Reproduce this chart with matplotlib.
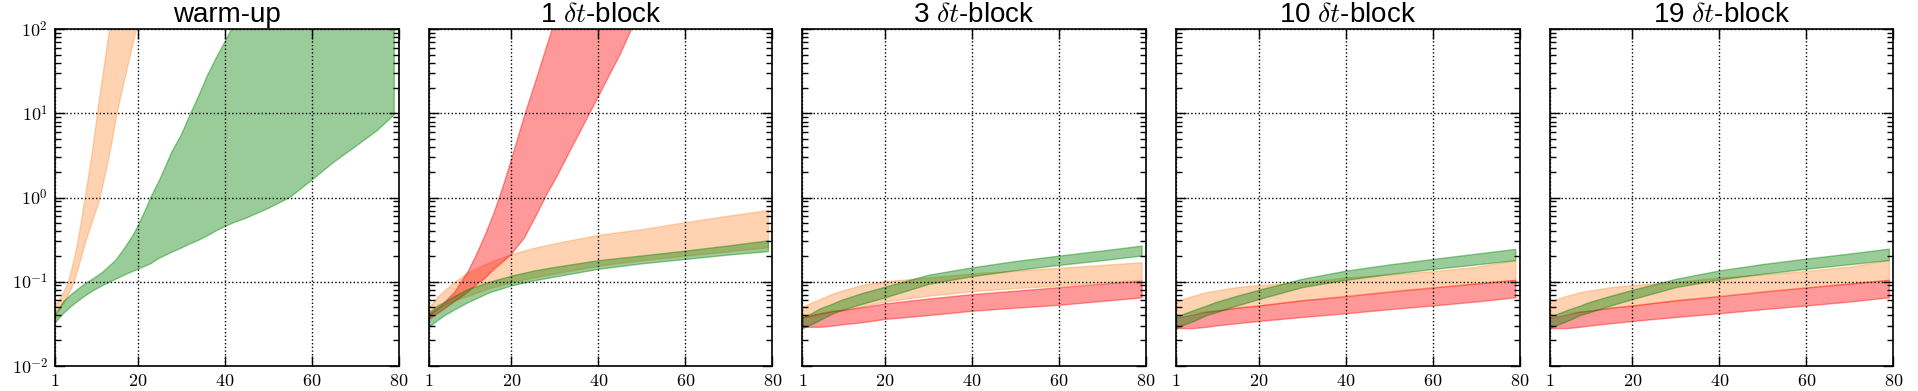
import matplotlib

matplotlib.use("Agg")
import matplotlib.pyplot as plt
from matplotlib.ticker import LogLocator, NullFormatter

plt.rcParams["mathtext.fontset"] = "cm"
plt.rcParams["font.family"] = ["Liberation Sans", "DejaVu Sans"]

panel_titles = ["warm-up", r"1 $\delta t$-block", r"3 $\delta t$-block",
                r"10 $\delta t$-block", r"19 $\delta t$-block"]

x_ticks = [1, 20, 40, 60, 80]
x_tick_labels = ["$1$", "$20$", "$40$", "$60$", "$80$"]
y_ticks = [1e-2, 1e-1, 1e0, 1e1, 1e2]
y_tick_labels = ["$10^{-2}$", "$10^{-1}$", "$10^{0}$", "$10^{1}$", "$10^{2}$"]

# warm-up
wu_orange_x = [1, 2, 3, 4, 5, 6, 7, 8, 9, 10, 11, 12, 13, 14, 15, 16, 17, 18, 19, 20, 21]
wu_orange_hi = [0.05, 0.06, 0.075, 0.095, 0.15, 0.25, 0.5, 1.05, 2.2, 5.0, 12.5, 28, 65,
                140, 300, 600, 1200, 2400, 5000, 9000, 15000]
wu_orange_lo = [0.04, 0.045, 0.055, 0.068, 0.088, 0.125, 0.19, 0.29, 0.42, 0.6, 0.85, 1.4,
                2.4, 4.3, 8.5, 15, 25, 42, 70, 115, 190]

wu_green_x = [1, 3, 5, 8, 10, 12, 15, 17, 19, 20, 22, 23, 25, 28, 30, 32, 34, 36, 38, 40,
              42, 45, 50, 55, 60, 65, 70, 75, 79]
wu_green_hi = [0.04, 0.058, 0.072, 0.095, 0.11, 0.13, 0.18, 0.25, 0.36, 0.45, 0.75, 1.0,
               1.6, 3.6, 5.5, 9.5, 16, 28, 45, 70, 110, 200, 400, 800, 1500, 3000, 6000,
               9000, 12000]
wu_green_lo = [0.032, 0.042, 0.052, 0.068, 0.079, 0.09, 0.107, 0.12, 0.133, 0.14, 0.155,
               0.163, 0.19, 0.225, 0.25, 0.28, 0.31, 0.35, 0.4, 0.45, 0.5, 0.57, 0.74, 1.0,
               1.6, 2.6, 4.0, 6.2, 9.6]

# 1 dt-block
b1_red_x = [1, 4, 7, 10, 12, 14, 16, 18, 20, 23, 26, 28, 30, 31, 34, 38, 42, 45, 48]
b1_red_hi = [0.04, 0.052, 0.075, 0.13, 0.21, 0.36, 0.65, 1.3, 2.8, 9.3, 28, 60, 125, 180,
             500, 1500, 4000, 8000, 15000]
b1_red_lo = [0.035, 0.045, 0.058, 0.075, 0.092, 0.11, 0.14, 0.17, 0.21, 0.33, 0.65, 1.05,
             1.6, 2.0, 4.0, 10, 25, 50, 110]

band_x = [1, 3, 5, 7, 10, 15, 20, 25, 30, 40, 50, 60, 70, 79]
b1_orange_hi = [0.049, 0.066, 0.082, 0.1, 0.129, 0.17, 0.213, 0.25, 0.286, 0.36, 0.42,
                0.51, 0.61, 0.71]
b1_orange_lo = [0.039, 0.047, 0.054, 0.06, 0.068, 0.084, 0.098, 0.112, 0.125, 0.155, 0.18,
                0.204, 0.23, 0.256]
b1_green_hi = [0.043, 0.052, 0.059, 0.068, 0.082, 0.1, 0.118, 0.135, 0.15, 0.18, 0.205,
               0.234, 0.27, 0.31]
b1_green_lo = [0.029, 0.035, 0.041, 0.047, 0.057, 0.075, 0.09, 0.103, 0.115, 0.142, 0.165,
               0.186, 0.21, 0.23]

# 3 / 10 / 19 dt-block
late_x = [1, 3, 5, 8, 10, 15, 20, 30, 40, 50, 60, 70, 79]
b3_green_hi = [0.038, 0.042, 0.048, 0.055, 0.061, 0.074, 0.087, 0.121, 0.148, 0.176, 0.204,
               0.235, 0.268]
b3_green_lo = [0.028, 0.031, 0.035, 0.042, 0.046, 0.055, 0.065, 0.094, 0.116, 0.137, 0.158,
               0.18, 0.204]
b3_orange_hi = [0.05, 0.056, 0.062, 0.072, 0.078, 0.092, 0.101, 0.112, 0.125, 0.135, 0.146,
                0.158, 0.17]
b3_orange_lo = [0.037, 0.039, 0.041, 0.044, 0.045, 0.051, 0.058, 0.068, 0.077, 0.084, 0.09,
                0.098, 0.106]
b3_red_hi = [0.038, 0.04, 0.042, 0.045, 0.046, 0.05, 0.055, 0.063, 0.071, 0.078, 0.086,
             0.095, 0.103]
b3_red_lo = [0.029, 0.029, 0.029, 0.03, 0.031, 0.033, 0.036, 0.04, 0.045, 0.049, 0.053,
             0.059, 0.065]

b10_green_hi = [0.038, 0.042, 0.046, 0.052, 0.057, 0.068, 0.08, 0.108, 0.135, 0.16, 0.186,
                0.215, 0.245]
b10_green_lo = [0.028, 0.031, 0.034, 0.04, 0.043, 0.052, 0.062, 0.086, 0.105, 0.123, 0.141,
                0.16, 0.18]
b10_orange_hi = [0.058, 0.063, 0.068, 0.075, 0.078, 0.086, 0.091, 0.098, 0.112, 0.122,
                 0.133, 0.15, 0.18]
b10_orange_lo = [0.039, 0.041, 0.043, 0.044, 0.045, 0.049, 0.052, 0.06, 0.068, 0.077, 0.086,
                 0.095, 0.105]
b10_red_hi = [0.037, 0.039, 0.041, 0.044, 0.045, 0.049, 0.052, 0.06, 0.067, 0.076, 0.085,
              0.095, 0.105]
b10_red_lo = [0.028, 0.028, 0.028, 0.029, 0.03, 0.032, 0.034, 0.038, 0.042, 0.047, 0.052,
              0.058, 0.065]

b19_green_hi = [0.038, 0.042, 0.046, 0.052, 0.057, 0.068, 0.08, 0.108, 0.136, 0.162, 0.188,
                0.216, 0.247]
b19_green_lo = [0.028, 0.031, 0.034, 0.04, 0.043, 0.052, 0.062, 0.086, 0.106, 0.124, 0.142,
                0.161, 0.181]
b19_orange_hi = [0.058, 0.063, 0.068, 0.075, 0.078, 0.086, 0.091, 0.099, 0.112, 0.122,
                 0.134, 0.151, 0.18]
b19_orange_lo = [0.039, 0.041, 0.043, 0.044, 0.045, 0.049, 0.052, 0.06, 0.068, 0.077,
                 0.086, 0.095, 0.105]
b19_red_hi = [0.037, 0.039, 0.041, 0.044, 0.045, 0.049, 0.052, 0.06, 0.067, 0.076, 0.085,
              0.095, 0.105]
b19_red_lo = [0.028, 0.028, 0.028, 0.029, 0.03, 0.032, 0.034, 0.038, 0.042, 0.047, 0.052,
              0.058, 0.065]

ORANGE = "#ff933e"
RED = "red"
GREEN = "green"


def band(ax, x, lo, hi, color):
    ax.fill_between(x, lo, hi, facecolor=color, edgecolor=color, alpha=0.4, linewidth=1.0)


fig, axes = plt.subplots(1, 5, figsize=(19.18, 3.91), dpi=100, sharey=True)
fig.subplots_adjust(left=0.0287, right=0.9871, bottom=0.0647, top=0.925, wspace=0.0876)

band(axes[0], wu_orange_x, wu_orange_lo, wu_orange_hi, ORANGE)
band(axes[0], wu_green_x, wu_green_lo, wu_green_hi, GREEN)

band(axes[1], band_x, b1_orange_lo, b1_orange_hi, ORANGE)
band(axes[1], b1_red_x, b1_red_lo, b1_red_hi, RED)
band(axes[1], band_x, b1_green_lo, b1_green_hi, GREEN)

late = [
    (b3_orange_lo, b3_orange_hi, b3_red_lo, b3_red_hi, b3_green_lo, b3_green_hi),
    (b10_orange_lo, b10_orange_hi, b10_red_lo, b10_red_hi, b10_green_lo, b10_green_hi),
    (b19_orange_lo, b19_orange_hi, b19_red_lo, b19_red_hi, b19_green_lo, b19_green_hi),
]
for ax, (o_lo, o_hi, r_lo, r_hi, g_lo, g_hi) in zip(axes[2:], late):
    band(ax, late_x, o_lo, o_hi, ORANGE)
    band(ax, late_x, r_lo, r_hi, RED)
    band(ax, late_x, g_lo, g_hi, GREEN)

for ax, title in zip(axes, panel_titles):
    ax.set_yscale("log")
    ax.set_xlim(1, 80)
    ax.set_ylim(1e-2, 1e2)
    ax.set_xticks(x_ticks)
    ax.set_xticklabels(x_tick_labels)
    ax.set_title(title, fontsize=20, pad=5)
    ax.grid(True, which="major", color="k", linestyle=":", linewidth=1.0)
    ax.yaxis.set_minor_locator(LogLocator(base=10, subs=range(2, 10)))
    ax.yaxis.set_minor_formatter(NullFormatter())
    ax.tick_params(which="both", direction="in", top=True, right=True, labelsize=13, pad=5)
    ax.tick_params(which="major", length=7, width=1)
    ax.tick_params(which="minor", length=4, width=1)
    ax.tick_params(axis="x", which="minor", bottom=False, top=False)
    for spine in ax.spines.values():
        spine.set_linewidth(1.2)

axes[0].set_yticks(y_ticks)
axes[0].set_yticklabels(y_tick_labels)

fig.savefig("out.png", dpi=100, facecolor="white")
